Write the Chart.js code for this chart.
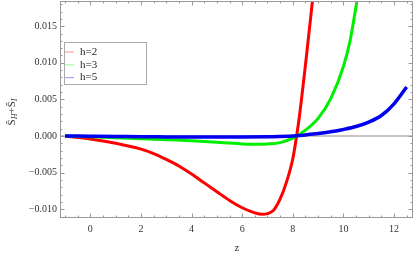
<!DOCTYPE html>
<html>
<head>
<meta charset="utf-8">
<script src="https://cdn.jsdelivr.net/npm/chart.js@4.4.0/dist/chart.umd.min.js"></script>
<style>
  body { margin: 0; background: #fff; }
  #wrap { width: 415px; height: 257px; }
</style>
</head>
<body>
<div id="wrap"><canvas id="plot"></canvas></div>
<script>
// values
const seriesLabels = ['h=2', 'h=3', 'h=5'];

const zRed = [-1, 0, 1, 2, 2.5, 3, 3.5, 4, 4.5, 5, 5.5, 6, 6.5, 6.8, 7, 7.25, 7.5, 7.75, 8, 8.15, 8.25, 8.5, 8.75, 8.9];
const red  = [0, -0.0004, -0.0010, -0.0018, -0.0024, -0.0032, -0.0041, -0.0052, -0.0064, -0.0076, -0.0088, -0.0098, -0.0105, -0.0107, -0.0106, -0.0101, -0.0086, -0.0063, -0.0031, 0, 0.0024, 0.0097, 0.0176, 0.0225];

const zGreen = [-1, 0, 1.5, 3, 4, 5, 5.5, 6, 6.5, 7, 7.5, 8, 8.5, 9, 9.5, 10, 10.25, 10.5, 10.6];
const green  = [0, -0.0001, -0.0003, -0.0005, -0.00065, -0.00085, -0.00097, -0.00108, -0.00114, -0.00108, -0.0009, -0.0003, 0.0008, 0.0024, 0.0051, 0.0095, 0.0128, 0.0177, 0.0198];

const zBlue = [-1, 0, 1, 2, 3, 4, 5, 6, 7, 8, 8.5, 9, 9.5, 10, 10.5, 11, 11.5, 12, 12.5];
const blue  = [0, -0.00003, -0.00006, -0.0001, -0.00012, -0.00014, -0.00015, -0.00014, -0.0001, 0, 0.00015, 0.00033, 0.00058, 0.0009, 0.0013, 0.0019, 0.0028, 0.0044, 0.0067];

function pts(xs, ys) {
  return xs.map((x, i) => ({ x: x, y: ys[i] }));
}

const serif = "'Liberation Serif', 'DejaVu Serif', serif";
const colors = ['#ff0000', '#00ee00', '#0000ee'];
const paleColors = ['rgba(255,0,0,0.35)', 'rgba(0,238,0,0.35)', 'rgba(0,0,238,0.35)'];

// frame, inner ticks, zero line, legend and axis titles
const framePlugin = {
  id: 'frame',
  beforeDatasetsDraw(chart) {
    const ctx = chart.ctx, a = chart.chartArea, ys = chart.scales.y;
    const y0 = ys.getPixelForValue(0);
    ctx.save();
    ctx.strokeStyle = '#b4b4b4';
    ctx.lineWidth = 1.5;
    ctx.beginPath();
    ctx.moveTo(a.left, y0);
    ctx.lineTo(a.right, y0);
    ctx.stroke();
    ctx.restore();
  },
  afterDatasetsDraw(chart) {
    const ctx = chart.ctx, a = chart.chartArea;
    const xs = chart.scales.x, ys = chart.scales.y;
    ctx.save();
    ctx.strokeStyle = '#999';
    ctx.lineWidth = 1;
    ctx.strokeRect(a.left + 0.5, a.top + 0.5, a.right - a.left - 1, a.bottom - a.top - 1);

    ctx.beginPath();
    // x ticks every 0.5, major every 2
    for (let i = -2; i <= 25; i++) {
      const v = i * 0.5;
      if (v < xs.min || v > xs.max) continue;
      const px = Math.round(xs.getPixelForValue(v)) + 0.5;
      const len = (i % 4 === 0) ? 4.5 : 2.5;
      ctx.moveTo(px, a.bottom);
      ctx.lineTo(px, a.bottom - len);
      ctx.moveTo(px, a.top);
      ctx.lineTo(px, a.top + len);
    }
    // y ticks every 0.001, major every 0.005
    for (let i = -12; i <= 19; i++) {
      const v = i * 0.001;
      if (v < ys.min || v > ys.max) continue;
      const py = Math.round(ys.getPixelForValue(v)) + 0.5;
      const len = (i % 5 === 0) ? 4.5 : 2.5;
      ctx.moveTo(a.left, py);
      ctx.lineTo(a.left + len, py);
      ctx.moveTo(a.right, py);
      ctx.lineTo(a.right - len, py);
    }
    ctx.stroke();

    // legend
    const lx = 64.5, ly = 42.5, lw = 82, lh = 42;
    ctx.fillStyle = '#fff';
    ctx.fillRect(lx, ly, lw, lh);
    ctx.strokeStyle = '#aaa';
    ctx.strokeRect(lx, ly, lw, lh);
    ctx.font = '11px ' + serif;
    ctx.textBaseline = 'middle';
    chart.data.datasets.forEach((ds, i) => {
      const yy = 52 + i * 12.8;
      ctx.strokeStyle = paleColors[i];
      ctx.lineWidth = 1.2;
      ctx.beginPath();
      ctx.moveTo(65, yy);
      ctx.lineTo(74, yy);
      ctx.stroke();
      ctx.fillStyle = '#222';
      ctx.fillText(ds.label, 80, yy);
    });

    // axis titles
    ctx.fillStyle = '#333';
    ctx.textAlign = 'center';
    ctx.font = '11px ' + serif;
    ctx.fillText('z', (a.left + a.right) / 2 + 0.5, 248);

    ctx.translate(12, 112);
    ctx.rotate(-Math.PI / 2);
    ctx.textAlign = 'left';
    const parts = [['Ŝ', 11, 0, ''], ['H', 8, 3, 'italic '], ['+', 11, 0, ''], ['Ŝ', 11, 0, ''], ['I', 8, 3, 'italic ']];
    let w = 0;
    parts.forEach(p => { ctx.font = p[3] + p[1] + 'px ' + serif; w += ctx.measureText(p[0]).width; });
    let cx = -w / 2;
    parts.forEach(p => {
      ctx.font = p[3] + p[1] + 'px ' + serif;
      ctx.fillText(p[0], cx, p[2]);
      cx += ctx.measureText(p[0]).width;
    });
    ctx.restore();
  }
};

function fmtY(v) {
  const r = Math.abs(v) < 1e-9 ? 0 : v;
  return r.toFixed(3).replace('-', '\u2212');
}

new Chart('plot', {
  type: 'line',
  data: {
    datasets: [
      { label: seriesLabels[0], data: pts(zRed, red), borderColor: colors[0], borderWidth: 3, order: 3 },
      { label: seriesLabels[1], data: pts(zGreen, green), borderColor: colors[1], borderWidth: 3, order: 2 },
      { label: seriesLabels[2], data: pts(zBlue, blue), borderColor: colors[2], borderWidth: 3.5, order: 1 }
    ]
  },
  options: {
    responsive: true,
    maintainAspectRatio: false,
    animation: false,
    events: [],
    layout: { padding: { top: 1, right: 2, left: 0, bottom: 0 } },
    elements: {
      point: { radius: 0 },
      line: { cubicInterpolationMode: 'monotone', fill: false }
    },
    plugins: { legend: { display: false }, tooltip: { enabled: false } },
    scales: {
      x: {
        type: 'linear',
        min: -1.2,
        max: 12.75,
        afterFit(s) { s.height = 39; s.paddingLeft = 0; s.paddingRight = 0; },
        grid: { display: false, drawTicks: false },
        border: { display: false },
        ticks: {
          stepSize: 2,
          includeBounds: false,
          padding: 5,
          color: '#333',
          font: { family: serif, size: 10 },
          maxRotation: 0
        }
      },
      y: {
        type: 'linear',
        min: -0.0112,
        max: 0.01844,
        afterFit(s) { s.width = 60; s.paddingTop = 0; s.paddingBottom = 0; },
        grid: { display: false, drawTicks: false },
        border: { display: false },
        ticks: {
          stepSize: 0.005,
          includeBounds: false,
          padding: 3,
          color: '#333',
          font: { family: serif, size: 10 },
          callback: v => fmtY(v)
        }
      }
    }
  },
  plugins: [framePlugin]
});
</script>
</body>
</html>
